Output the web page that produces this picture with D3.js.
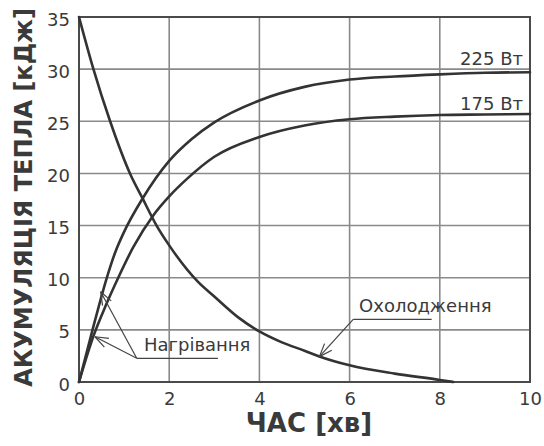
<!DOCTYPE html>
<html>
<head>
<meta charset="utf-8">
<script src="https://cdn.jsdelivr.net/npm/d3@7"></script>
<style>
  html, body { margin: 0; padding: 0; background: #fff; }
  svg { display: block; }
  text { font-family: "DejaVu Sans", "Liberation Sans", sans-serif; fill: #3a3a3a; }
</style>
</head>
<body>
<svg id="chart" width="544" height="446"></svg>
<script>
// Heat accumulation over time: two heating curves and one cooling curve
const xTicks = [0, 2, 4, 6, 8, 10];
const yTicks = [0, 5, 10, 15, 20, 25, 30, 35];

const time225 = [0, 0.3, 0.61, 0.8, 1.0, 1.41, 2, 2.5, 3, 4, 5, 6, 7, 8, 9, 10];
const heat225 = [0, 5.0, 9.9, 12.4, 14.4, 17.6, 21.2, 23.3, 24.9, 27.0, 28.3, 29.0, 29.3, 29.5, 29.65, 29.7];

const time175 = [0, 0.32, 0.6, 0.87, 1.2, 1.65, 2, 2.4, 3, 4, 5, 6, 7, 8, 9, 10];
const heat175 = [0, 4.4, 7.4, 10.0, 12.9, 16.0, 17.8, 19.5, 21.6, 23.5, 24.6, 25.2, 25.45, 25.6, 25.65, 25.7];

const timeCool = [0, 0.32, 0.69, 1.13, 1.41, 1.72, 2, 2.64, 3.0, 3.53, 4, 4.5, 5, 5.33, 6, 7, 8, 8.3];
const cool     = [35, 30, 25, 20, 17.6, 15, 13.1, 9.6, 8.2, 6.2, 4.85, 3.8, 3.0, 2.45, 1.6, 0.8, 0.2, 0];

const seriesLabels = ["225 Вт", "175 Вт"];
const xTitle = "ЧАС [хв]";
const yTitle = "АКУМУЛЯЦІЯ ТЕПЛА [кДж]";
const heatNoteText = "Нагрівання";
const coolNoteText = "Охолодження";

const svg = d3.select("#chart");
const m = { left: 79, right: 14, top: 17, bottom: 64 };
const W = 544, H = 446;

const x = d3.scaleLinear().domain([0, 10]).range([m.left, W - m.right]);
const y = d3.scaleLinear().domain([0, 35]).range([H - m.bottom, m.top]);

// grid
const grid = svg.append("g");
grid.selectAll("line.v").data(xTicks.slice(1, -1)).join("line")
  .attr("x1", d => x(d)).attr("x2", d => x(d))
  .attr("y1", y(0)).attr("y2", y(35))
  .attr("stroke", "#8a8a8a").attr("stroke-width", 1.6);
grid.selectAll("line.h").data(yTicks.slice(1, -1)).join("line")
  .attr("y1", d => y(d)).attr("y2", d => y(d))
  .attr("x1", x(0)).attr("x2", x(10))
  .attr("stroke", "#8a8a8a").attr("stroke-width", 1.6);

// frame
svg.append("rect")
  .attr("x", x(0)).attr("y", y(35))
  .attr("width", x(10) - x(0)).attr("height", y(0) - y(35))
  .attr("fill", "none").attr("stroke", "#4a4a4a").attr("stroke-width", 2);

// axes (labels only; frame draws the axis lines)
const xAxis = svg.append("g").attr("transform", `translate(0,${y(0)})`)
  .call(d3.axisBottom(x).tickValues(xTicks).tickSize(0).tickPadding(10).tickFormat(d3.format("d")));
xAxis.select(".domain").remove();
xAxis.selectAll("text").attr("font-size", 18).attr("fill", "#3a3a3a")
  .style("font-family", "'DejaVu Sans', sans-serif");

const yAxis = svg.append("g").attr("transform", `translate(${x(0)},0)`)
  .call(d3.axisLeft(y).tickValues(yTicks).tickSize(0).tickPadding(9).tickFormat(d3.format("d")));
yAxis.select(".domain").remove();
yAxis.selectAll("text").attr("font-size", 18).attr("fill", "#3a3a3a")
  .attr("dy", "0.45em")
  .style("font-family", "'DejaVu Sans', sans-serif");

// curves
const line = d3.line().x(d => x(d[0])).y(d => y(d[1])).curve(d3.curveMonotoneX);
const zip = (a, b) => a.map((v, i) => [v, b[i]]);
const curves = [zip(time225, heat225), zip(time175, heat175), zip(timeCool, cool)];
svg.append("g").selectAll("path").data(curves).join("path")
  .attr("d", line)
  .attr("fill", "none").attr("stroke", "#333").attr("stroke-width", 2.6)
  .attr("stroke-linecap", "round");

// end labels for the heating curves
const ends = [heat225[heat225.length - 1], heat175[heat175.length - 1]];
const endOffsets = [-7, -3.5];
svg.append("g").selectAll("text").data(seriesLabels).join("text")
  .attr("x", x(10) - 7)
  .attr("y", (d, i) => y(ends[i]) + endOffsets[i])
  .attr("text-anchor", "end")
  .attr("font-size", 18)
  .text(d => d);

// annotations with leader lines and open arrowheads
function arrow(g, from, tip) {
  const fx = x(from[0]), fy = y(from[1]), tx = x(tip[0]), ty = y(tip[1]);
  g.append("line").attr("x1", fx).attr("y1", fy).attr("x2", tx).attr("y2", ty);
  const ang = Math.atan2(fy - ty, fx - tx);
  const len = 14, spread = 0.36;
  [-spread, spread].forEach(s => {
    g.append("line").attr("x1", tx).attr("y1", ty)
      .attr("x2", tx + len * Math.cos(ang + s))
      .attr("y2", ty + len * Math.sin(ang + s));
  });
}

const notes = svg.append("g").attr("stroke", "#444").attr("stroke-width", 1.2).attr("fill", "none");

// heating note
const heatLeader = [[1.28, 2.27], [3.08, 2.27]];
const heatTips = [[0.48, 8.66], [0.355, 4.34]];
notes.append("line")
  .attr("x1", x(heatLeader[0][0])).attr("y1", y(heatLeader[0][1]))
  .attr("x2", x(heatLeader[1][0])).attr("y2", y(heatLeader[1][1]));
heatTips.forEach(t => arrow(notes, heatLeader[0], t));
svg.append("text").attr("x", x(1.44)).attr("y", y(3.0))
  .attr("font-size", 18).text(heatNoteText);

// cooling note
const coolLeader = [[6.08, 6.01], [7.82, 6.01]];
const coolTip = [5.33, 2.43];
notes.append("line")
  .attr("x1", x(coolLeader[0][0])).attr("y1", y(coolLeader[0][1]))
  .attr("x2", x(coolLeader[1][0])).attr("y2", y(coolLeader[1][1]));
arrow(notes, coolLeader[0], coolTip);
svg.append("text").attr("x", x(6.21)).attr("y", y(6.68))
  .attr("font-size", 18).text(coolNoteText);

// axis titles
svg.append("text")
  .attr("x", 309).attr("y", 432)
  .attr("text-anchor", "middle")
  .attr("font-size", 26).attr("font-weight", "bold")
  .text(xTitle);

svg.append("text")
  .attr("transform", `translate(32,${(y(0) + y(35)) / 2 - 2}) rotate(-90)`)
  .attr("text-anchor", "middle")
  .attr("font-size", 24).attr("font-weight", "bold")
  .text(yTitle);
</script>
</body>
</html>
